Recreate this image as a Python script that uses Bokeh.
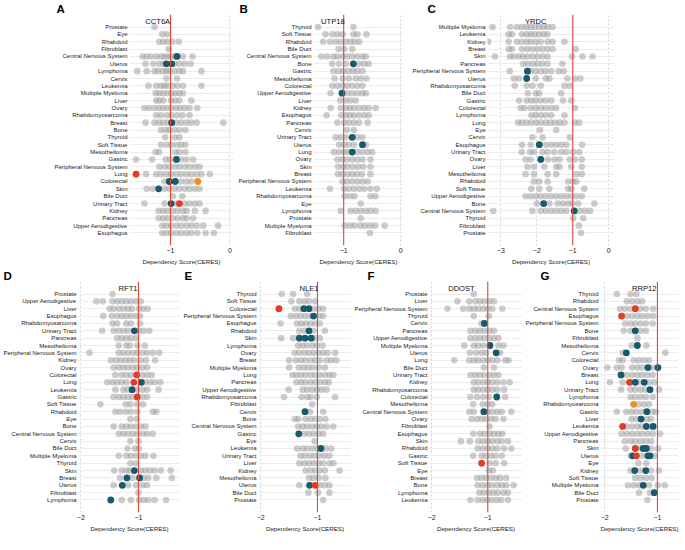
from bokeh.plotting import figure
from bokeh.models import FactorRange, Range1d, Span, Label, SingleIntervalTicker, ColumnDataSource
from bokeh.layouts import column, row
from bokeh.embed import file_html
from bokeh.resources import INLINE

FONT = "Liberation Sans"
GREY = "#A2A2A2"
GROUP_COLORS = {"teal": "#17596D", "red": "#E63B21", "orange": "#EF8E1E"}
XLABEL = "Dependency Score(CERES)"

# ---------------- Panel A : CCT6A ----------------
A_cats = ["Prostate", "Eye", "Rhabdoid", "Fibroblast", "Central Nervous System", "Uterus", "Lymphoma", "Cervix",
          "Leukemia", "Multiple Myeloma", "Liver", "Ovary", "Rhabdomyosarcoma", "Breast", "Bone", "Thyroid",
          "Soft Tissue", "Mesothelioma", "Gastric", "Peripheral Nervous System", "Lung", "Colorectal", "Skin",
          "Bile Duct", "Urinary Tract", "Kidney", "Pancreas", "Upper Aerodigestive", "Esophagus"]
A_grey = [
    [-1.27],
    [-1.14, -1.06],
    [-1.19, -1.12, -1.05, -0.97, -0.86],
    [-1.03],
    [-1.47, -1.40, -1.33, -1.24, -1.16, -1.10, -1.05, -0.99, -0.93, -0.79, -0.63],
    [-1.42, -1.29, -1.19, -1.12, -0.93, -0.85, -0.76, -0.66],
    [-1.56, -1.40, -1.27, -1.21, -1.13, -1.07, -1.02, -0.93, -0.85, -0.79, -0.48],
    [-1.07, -0.89],
    [-1.37, -1.24, -1.16, -1.10, -1.05, -0.96, -0.88, -0.79, -0.48],
    [-1.25, -1.19, -1.12, -1.05, -0.98, -0.92, -0.85, -0.79],
    [-1.24, -1.19, -1.12, -0.99, -0.92, -0.85, -0.65],
    [-1.44, -1.36, -1.27, -1.19, -1.12, -1.05, -0.98, -0.90, -0.84, -0.76, -0.68, -0.55],
    [-1.24, -1.16, -1.06, -0.98, -0.89, -0.80, -0.68],
    [-1.42, -1.27, -1.19, -1.12, -1.05, -0.90, -0.82, -0.73, -0.65, -0.56, -0.11],
    [-1.16, -1.08, -1.02, -0.93, -0.85, -0.75],
    [-1.09, -0.93, -0.85],
    [-1.16, -1.06, -0.98, -0.89, -0.82, -0.75],
    [-1.25, -1.19, -0.92, -0.85, -0.75],
    [-1.58, -1.31, -1.08, -1.01, -0.82, -0.73, -0.62],
    [-1.19, -1.10, -1.02, -0.93, -0.85, -0.76, -0.68, -0.59, -0.51],
    [-1.41, -1.24, -1.16, -1.07, -0.99, -0.90, -0.82, -0.73, -0.65, -0.56, -0.48, -0.34],
    [-1.10, -0.82, -0.73, -0.65],
    [-1.40, -1.30, -1.10, -1.02, -0.93, -0.85, -0.76, -0.68, -0.59, -0.51],
    [-0.96, -0.80],
    [-1.44, -1.10, -0.90, -0.76, -0.68, -0.59, -0.51],
    [-1.20, -1.12, -1.05, -0.96, -0.88, -0.79, -0.73, -0.59, -0.41],
    [-1.20, -1.12, -1.05, -0.96, -0.88, -0.79, -0.73, -0.62],
    [-1.14, -1.07, -0.99, -0.90, -0.82, -0.73, -0.65, -0.56, -0.45, -0.20],
    [-1.14, -1.07, -0.99, -0.90, -0.82, -0.73, -0.65, -0.55, -0.41, -0.27],
]
A_hl_cat = ["Central Nervous System", "Uterus", "Uterus", "Breast", "Gastric", "Lung", "Colorectal", "Colorectal",
            "Colorectal", "Skin", "Urinary Tract", "Urinary Tract"]
A_hl_x = [-0.89, -1.07, -0.98, -0.98, -0.90, -1.58, -1.02, -0.92, -0.54, -1.20, -0.99, -0.85]
A_hl_grp = ["teal", "teal", "teal", "teal", "teal", "red", "teal", "teal", "orange", "teal", "teal", "red"]

# ---------------- Panel B : UTP18 ----------------
B_cats = ["Thyroid", "Soft Tissue", "Rhabdoid", "Bile Duct", "Central Nervous System", "Bone", "Gastric",
          "Mesothelioma", "Colorectal", "Upper Aerodigestive", "Liver", "Kidney", "Esophagus", "Pancreas", "Cervix",
          "Urinary Tract", "Uterus", "Lung", "Ovary", "Skin", "Breast", "Peripheral Nervous System", "Leukemia",
          "Rhabdomyosarcoma", "Eye", "Lymphoma", "Prostate", "Multiple Myeloma", "Fibroblast"]
B_grey = [
    [-1.45, -0.83],
    [-1.32, -1.20, -1.11, -1.02, -0.83, -0.76, -0.60],
    [-1.36, -1.24, -1.14, -1.05, -0.96, -0.88, -0.81, -0.73],
    [-1.09, -0.99, -0.85],
    [-1.39, -1.29, -1.18, -1.11, -1.02, -0.94, -0.85, -0.76, -0.67, -0.61],
    [-1.20, -1.08, -0.96, -0.73, -0.64, -0.56],
    [-1.18, -1.09, -1.01, -0.92, -0.84, -0.76, -0.67],
    [-1.16, -1.02, -0.91, -0.79, -0.70, -0.60],
    [-1.20, -1.11, -1.02, -0.94, -0.85, -0.76, -0.67],
    [-1.23, -0.94, -0.85, -0.76, -0.67, -0.61],
    [-1.06, -0.96, -0.88, -0.79],
    [-1.23, -1.05, -0.96, -0.89, -0.82, -0.73, -0.64, -0.56, -0.44],
    [-1.30, -1.04, -0.96, -0.89, -0.82, -0.73, -0.64, -0.56],
    [-1.11, -0.99, -0.91, -0.82, -0.73, -0.58],
    [-0.94, -0.82],
    [-1.14, -1.05, -0.96, -0.76, -0.67],
    [-1.08, -0.99, -0.91, -0.82, -0.61],
    [-1.17, -1.08, -0.99, -0.92, -0.76, -0.67, -0.58, -0.50],
    [-1.11, -1.02, -0.94, -0.85, -0.76, -0.67, -0.53],
    [-1.10, -1.01, -0.93, -0.84, -0.75, -0.66, -0.53],
    [-1.10, -1.02, -0.93, -0.85, -0.77, -0.68, -0.53],
    [-1.02, -0.94, -0.85, -0.76, -0.67, -0.58],
    [-1.24, -0.99, -0.91, -0.82, -0.73, -0.64, -0.53, -0.42],
    [-0.98, -0.89, -0.81, -0.53, -0.44],
    [-0.70],
    [-1.05, -0.88, -0.79, -0.70, -0.61, -0.53, -0.44],
    [-0.70],
    [-0.98, -0.89, -0.81, -0.71, -0.63, -0.54, -0.45, -0.28],
    [-0.54],
]
B_hl_cat = ["Bone", "Upper Aerodigestive", "Urinary Tract", "Uterus", "Lung"]
B_hl_x = [-0.83, -1.03, -0.85, -0.67, -0.85]
B_hl_grp = ["teal", "teal", "teal", "teal", "teal"]

# ---------------- Panel C : YRDC ----------------
C_cats = ["Multiple Myeloma", "Leukemia", "Kidney", "Breast", "Skin", "Pancreas", "Peripheral Nervous System",
          "Uterus", "Rhabdomyosarcoma", "Bile Duct", "Gastric", "Colorectal", "Lymphoma", "Lung", "Eye", "Cervix",
          "Esophagus", "Urinary Tract", "Ovary", "Liver", "Mesothelioma", "Rhabdoid", "Soft Tissue",
          "Upper Aerodigestive", "Bone", "Central Nervous System", "Thyroid", "Fibroblast", "Prostate"]
C_grey = [
    [-3.23, -2.74, -2.55, -2.41, -2.28, -2.17, -2.06, -1.93, -1.81, -1.70, -1.56],
    [-2.78, -2.69, -2.41, -2.28, -2.17, -2.06, -1.93, -1.81, -1.70],
    [-3.35, -2.78, -2.55, -2.41, -2.28, -2.17, -2.03, -1.89, -1.70, -1.56, -1.23],
    [-2.78, -2.69, -2.41, -2.26, -2.12, -1.98, -1.84, -1.70, -1.56, -0.92],
    [-3.16, -2.75, -2.64, -2.50, -2.38, -2.26, -2.12, -1.98, -1.84, -1.70, -1.02, -0.73, -0.45],
    [-2.38, -2.25, -2.11, -1.98, -1.85, -1.70, -1.29],
    [-2.75, -2.17, -2.03, -1.89, -1.76, -1.60, -1.39, -1.25],
    [-2.64, -2.50, -2.03, -1.75, -1.65, -1.15, -0.94, -0.79],
    [-2.61, -2.28, -2.12, -1.89, -1.23, -1.08],
    [-2.25, -2.03, -1.93, -1.32],
    [-2.49, -2.28, -2.15, -2.03, -1.89, -1.75, -1.60, -1.27, -1.04],
    [-2.45, -2.34, -2.17, -2.03, -1.89, -1.75, -1.60, -1.46, -0.94],
    [-2.15, -2.03, -1.89, -1.75, -1.60, -1.23],
    [-2.52, -2.41, -2.28, -2.15, -2.02, -1.89, -1.75, -1.62, -1.49, -1.36, -1.23, -0.94, -0.82],
    [-1.91, -1.46],
    [-2.12, -1.84, -1.08],
    [-2.41, -2.17, -1.75, -1.60, -1.46, -1.32, -1.18, -0.74],
    [-2.42, -2.19, -2.08, -1.84, -1.70, -1.51, -1.32, -1.18, -0.99, -0.82],
    [-2.31, -2.17, -1.70, -1.51, -1.37, -1.08, -0.94, -0.75],
    [-2.26, -2.08, -1.79, -1.46, -1.37, -1.04, -0.75],
    [-2.31, -2.08, -1.70, -1.46, -0.90, -0.75],
    [-2.08, -1.93, -1.70, -1.13, -0.99, -0.90],
    [-2.15, -1.93, -1.65, -1.13, -1.04, -0.68],
    [-2.31, -2.17, -2.03, -1.89, -1.75, -1.60, -1.46, -1.32, -1.18, -1.04, -0.90, -0.75],
    [-2.00, -1.65, -1.42, -1.27, -1.13, -1.02, -0.85, -0.40],
    [-3.21, -2.12, -1.89, -1.75, -1.60, -1.46, -1.32, -1.18, -0.80, -0.66, -0.52],
    [-0.99, -0.71],
    [-0.83],
    [-0.77],
]
C_hl_cat = ["Peripheral Nervous System", "Uterus", "Esophagus", "Ovary", "Bone", "Central Nervous System"]
C_hl_x = [-2.26, -2.28, -1.93, -1.89, -1.81, -0.96]
C_hl_grp = ["teal", "teal", "teal", "teal", "teal", "teal"]

# ---------------- Panel D : RFT1 ----------------
D_cats = ["Prostate", "Upper Aerodigestive", "Liver", "Esophagus", "Rhabdomyosarcoma", "Urinary Tract", "Pancreas",
          "Mesothelioma", "Peripheral Nervous System", "Kidney", "Ovary", "Colorectal", "Lung", "Leukemia", "Gastric",
          "Soft Tissue", "Rhabdoid", "Eye", "Bone", "Central Nervous System", "Cervix", "Bile Duct",
          "Multiple Myeloma", "Thyroid", "Skin", "Breast", "Uterus", "Fibroblast", "Lymphoma"]
D_grey = [
    [-1.45],
    [-1.73, -1.62, -1.45, -1.37, -1.29, -1.21, -1.13, -1.04, -0.96],
    [-1.50, -1.43, -1.34, -1.26, -1.18, -1.11, -0.99, -0.92, -0.84],
    [-1.61, -1.46, -1.37, -1.29, -1.21, -1.13, -1.04, -0.97],
    [-1.45, -1.37, -1.21, -1.13, -0.97],
    [-1.63, -1.43, -1.34, -1.26, -1.18, -0.99, -0.91, -0.81],
    [-1.37, -1.29, -1.21, -1.13, -1.04],
    [-1.34, -1.21, -1.15, -1.02, -0.89],
    [-1.85, -1.34, -1.26, -1.18, -1.10, -1.02, -0.93, -0.85, -0.75, -0.64],
    [-1.48, -1.39, -1.31, -1.23, -1.15, -1.07, -0.96, -0.87, -0.71],
    [-1.43, -1.34, -1.26, -1.18, -1.10, -1.02, -0.93, -0.85],
    [-1.40, -1.29, -1.21, -1.13, -0.93, -0.85, -0.77],
    [-1.54, -1.45, -1.37, -1.29, -1.21, -0.88, -0.80, -0.72, -0.62],
    [-1.40, -1.26, -1.19, -1.02, -0.93, -0.85, -0.65],
    [-1.43, -1.34, -1.26, -1.18, -1.10, -0.93, -0.85],
    [-1.66, -1.22, -1.14, -1.02, -0.92],
    [-1.40, -1.32, -1.22, -1.13, -1.02, -0.75, -0.69],
    [-1.14, -1.03],
    [-1.43, -1.29, -1.21, -1.13, -1.04, -0.96, -0.88],
    [-1.34, -1.26, -1.18, -1.10, -1.02, -0.93, -0.85, -0.75],
    [-1.14, -1.00],
    [-1.19, -1.06, -0.99],
    [-1.34, -1.21, -1.13, -1.04, -0.96, -0.88, -0.74],
    [-1.14, -1.04],
    [-1.42, -1.29, -1.21, -1.15, -0.96, -0.88, -0.80, -0.72, -0.61, -0.44],
    [-1.32, -1.10, -0.91, -0.83, -0.69, -0.42],
    [-1.43, -1.18, -1.04, -0.93, -0.85],
    [-1.00],
    [-1.29, -1.13, -0.99, -0.91, -0.83, -0.72, -0.52],
]
D_hl_cat = ["Urinary Tract", "Colorectal", "Lung", "Lung", "Leukemia", "Gastric", "Skin", "Breast", "Breast",
            "Uterus", "Lymphoma"]
D_hl_x = [-1.07, -1.03, -1.08, -0.95, -1.11, -1.02, -1.07, -1.20, -0.98, -1.28, -1.48]
D_hl_grp = ["teal", "red", "red", "teal", "teal", "red", "teal", "teal", "teal", "teal", "teal"]

# ---------------- Panel E : NLE1 ----------------
E_cats = ["Thyroid", "Soft Tissue", "Colorectal", "Peripheral Nervous System", "Esophagus", "Rhabdoid", "Skin",
          "Lymphoma", "Ovary", "Breast", "Multiple Myeloma", "Lung", "Pancreas", "Upper Aerodigestive",
          "Rhabdomyosarcoma", "Fibroblast", "Cervix", "Bone", "Central Nervous System", "Gastric", "Eye",
          "Leukemia", "Urinary Tract", "Liver", "Kidney", "Mesothelioma", "Uterus", "Bile Duct", "Prostate"]
E_grey = [
    [-1.63, -1.43, -1.18],
    [-1.46, -1.32, -1.23, -1.15, -1.04],
    [-1.40, -1.32, -1.07, -0.98, -0.90],
    [-1.47, -1.38, -1.30, -1.22, -1.13, -0.97, -0.90],
    [-1.65, -1.36, -1.28, -1.20, -1.12, -1.04, -0.96],
    [-1.32, -1.23, -1.07, -0.87],
    [-1.64, -1.43, -1.04, -0.96],
    [-1.34, -1.26, -1.18, -1.09, -1.01, -0.91],
    [-1.40, -1.32, -1.23, -1.15, -1.07, -0.98, -0.90, -0.82, -0.69],
    [-1.50, -1.38, -1.29, -1.21, -1.12, -1.04, -0.96, -0.84, -0.76, -0.67],
    [-1.50, -1.33, -1.24, -1.16, -1.08, -0.98, -0.87],
    [-1.44, -1.37, -1.29, -1.21, -1.12, -1.04, -0.96, -0.87, -0.79, -0.72],
    [-1.37, -1.29, -1.21, -1.12, -1.04, -0.96, -0.87, -0.80],
    [-1.51, -1.26, -1.18, -1.09, -1.01, -0.93, -0.84],
    [-1.59, -1.28, -1.18, -1.12, -1.01, -0.69],
    [-1.09],
    [-1.13, -0.90],
    [-1.40, -1.34, -1.21, -1.12, -1.04, -0.96, -0.86],
    [-1.34, -1.26, -1.18, -1.09, -1.01, -0.93, -0.84, -0.72],
    [-1.23, -1.15, -1.07, -0.98, -0.90],
    [-1.05],
    [-1.36, -1.26, -1.18, -1.09, -1.01, -0.86, -0.76],
    [-1.30, -1.22, -1.13, -1.05, -0.97, -0.88, -0.79],
    [-1.32, -1.23, -1.15, -1.07, -0.98, -0.90, -0.79, -0.72],
    [-1.21, -1.12, -1.04, -0.96, -0.87, -0.61],
    [-1.15, -1.07, -0.98, -0.86],
    [-1.32, -0.96, -0.87, -0.79],
    [-1.16, -0.99, -0.79],
    [-0.90],
]
E_hl_cat = ["Colorectal", "Colorectal", "Colorectal", "Peripheral Nervous System", "Rhabdoid", "Skin", "Skin",
            "Skin", "Cervix", "Gastric", "Leukemia", "Uterus", "Uterus"]
E_hl_x = [-1.68, -1.24, -1.15, -1.07, -1.15, -1.32, -1.22, -1.11, -1.22, -1.33, -0.94, -1.14, -1.04]
E_hl_grp = ["red", "teal", "teal", "teal", "teal", "teal", "teal", "teal", "teal", "teal", "teal", "teal", "red"]

# ---------------- Panel F : DDOST ----------------
F_cats = ["Prostate", "Liver", "Peripheral Nervous System", "Thyroid", "Cervix", "Pancreas", "Upper Aerodigestive",
          "Multiple Myeloma", "Uterus", "Lung", "Bile Duct", "Urinary Tract", "Kidney", "Rhabdomyosarcoma",
          "Colorectal", "Mesothelioma", "Central Nervous System", "Ovary", "Fibroblast", "Esophagus", "Skin",
          "Rhabdoid", "Gastric", "Soft Tissue", "Eye", "Breast", "Bone", "Lymphoma", "Leukemia"]
F_grey = [
    [-1.25],
    [-1.54, -1.33, -1.22, -1.14, -1.06, -0.97, -0.89],
    [-1.72, -1.44, -1.33, -1.25, -1.17, -1.08, -1.00, -0.92, -0.74],
    [-1.25, -0.98],
    [-1.11],
    [-1.31, -1.22, -1.14, -1.06, -0.97, -0.89],
    [-1.31, -1.22, -1.14, -1.06, -0.97, -0.89, -0.81],
    [-1.42, -1.25, -1.17, -1.08, -0.81, -0.72],
    [-1.32, -1.21, -1.11, -1.03, -0.78],
    [-1.60, -1.33, -1.25, -1.17, -1.08, -1.00, -0.92, -0.83, -0.69, -0.63],
    [-1.07, -0.89],
    [-1.31, -1.22, -1.14, -1.06, -0.97, -0.89, -0.81],
    [-1.25, -1.17, -1.08, -1.00, -0.92, -0.83, -0.72, -0.61],
    [-1.25, -1.17, -1.08, -1.00, -0.92, -0.83, -0.71],
    [-1.31, -1.19, -1.08, -0.98, -0.69],
    [-1.26, -1.09, -1.00, -0.92],
    [-1.33, -1.25, -1.00, -0.92, -0.83, -0.75, -0.58],
    [-1.29, -1.19, -1.11, -1.03, -0.94, -0.86, -0.72],
    [-0.97],
    [-1.26, -1.14, -1.06, -0.97, -0.89, -0.81, -0.74],
    [-1.48, -1.32, -1.17, -1.08, -1.00, -0.92, -0.83, -0.75, -0.64],
    [-1.18, -1.09, -1.00, -0.92, -0.83, -0.71, -0.58],
    [-1.26, -1.11, -1.03, -0.94, -0.86, -0.75],
    [-0.97, -0.86, -0.71],
    [-0.98, -0.91],
    [-1.19, -1.11, -1.03, -0.94, -0.86, -0.78, -0.67],
    [-1.18, -1.09, -1.00, -0.92, -0.83, -0.75, -0.67, -0.54],
    [-1.15, -1.07, -0.98, -0.90, -0.82, -0.72, -0.64],
    [-1.31, -1.18, -1.09, -1.01, -0.93, -0.84, -0.76, -0.64],
]
F_hl_cat = ["Cervix", "Multiple Myeloma", "Uterus", "Colorectal", "Central Nervous System", "Soft Tissue"]
F_hl_x = [-1.06, -0.96, -0.85, -0.84, -1.07, -1.11]
F_hl_grp = ["teal", "teal", "teal", "teal", "teal", "red"]

# ---------------- Panel G : RRP12 ----------------
G_cats = ["Thyroid", "Rhabdoid", "Central Nervous System", "Esophagus", "Peripheral Nervous System", "Bone",
          "Fibroblast", "Mesothelioma", "Cervix", "Colorectal", "Ovary", "Breast", "Lung", "Urinary Tract",
          "Lymphoma", "Rhabdomyosarcoma", "Gastric", "Liver", "Leukemia", "Upper Aerodigestive", "Pancreas", "Skin",
          "Uterus", "Eye", "Kidney", "Soft Tissue", "Multiple Myeloma", "Bile Duct", "Prostate"]
G_grey = [
    [-1.77, -1.51, -1.40],
    [-1.58, -1.48, -1.38, -1.29],
    [-1.71, -1.61, -1.51, -1.32, -1.22, -1.08],
    [-1.58, -1.48, -1.38, -1.29, -1.19, -1.08],
    [-1.61, -1.51, -1.42, -1.32, -1.22, -1.09],
    [-1.64, -1.51, -1.32, -1.22],
    [-1.38],
    [-1.49, -1.21],
    [-1.66, -0.85],
    [-1.73, -1.66, -1.45, -1.35, -1.25, -1.16],
    [-1.95, -1.77, -1.68, -1.48, -1.38, -1.29, -1.09],
    [-1.58, -1.48, -1.38, -1.29, -1.19, -1.09],
    [-1.90, -1.66, -1.49, -1.35, -1.16, -1.06],
    [-1.69, -1.51, -1.42, -1.32, -1.23, -0.97],
    [-1.51, -1.42, -1.32, -1.22, -1.09],
    [-1.35, -1.25, -1.16],
    [-1.77, -1.59, -1.49, -1.40, -1.30, -1.10, -1.03],
    [-1.49, -1.40, -1.20, -1.12],
    [-1.58, -1.48, -1.38, -1.30, -1.12],
    [-1.68, -1.58, -1.48, -1.38, -1.29, -1.19, -1.09, -0.95],
    [-1.62, -1.51, -1.42, -1.32, -1.22, -1.12],
    [-1.60, -1.32, -1.12, -0.99],
    [-1.51, -1.29, -1.06],
    [-1.36, -1.21],
    [-1.51, -1.32, -1.12, -0.97],
    [-1.42, -1.32, -1.22, -1.11],
    [-1.56, -1.45, -1.35, -1.16, -0.99, -0.86],
    [-1.35, -1.14],
    [-1.19],
]
G_hl_cat = ["Central Nervous System", "Esophagus", "Bone", "Mesothelioma", "Cervix", "Ovary", "Ovary", "Breast",
            "Lung", "Lung", "Lung", "Urinary Tract", "Rhabdomyosarcoma", "Gastric", "Liver", "Leukemia", "Leukemia",
            "Leukemia", "Skin", "Skin", "Skin", "Uterus", "Uterus", "Uterus", "Uterus", "Kidney", "Kidney",
            "Multiple Myeloma", "Bile Duct"]
G_hl_x = [-1.42, -1.68, -1.42, -1.38, -1.59, -1.18, -0.99, -1.69, -1.53, -1.42, -1.25, -1.14, -1.45, -1.20, -1.31,
          -1.66, -1.21, -1.08, -1.42, -1.27, -1.21, -1.47, -1.40, -1.18, -1.14, -1.43, -1.22, -1.27, -1.06]
G_hl_grp = ["red", "red", "teal", "teal", "teal", "teal", "teal", "teal", "red", "teal", "teal", "teal", "orange",
            "teal", "teal", "red", "teal", "teal", "red", "teal", "teal", "teal", "red", "teal", "teal", "teal",
            "teal", "teal", "teal"]

FRAME_H = 231


def panel(cats, grey, hl_cat, hl_x, hl_grp, x_start, x_end, frame_w, left, right,
          letter, letter_off, gene, gene_x):
    n = len(cats)
    p = figure(frame_width=frame_w, frame_height=FRAME_H, output_backend="svg", toolbar_location=None,
               x_range=Range1d(x_start, x_end),
               y_range=FactorRange(factors=cats[::-1], range_padding=1.2, range_padding_units="absolute"),
               min_border_left=left, min_border_right=right, min_border_top=0, min_border_bottom=21)
    p.outline_line_color = None
    p.background_fill_color = "white"

    # panel letter as the figure title, shifted left of the panel
    p.title.text = letter
    p.title.align = "left"
    p.title.offset = letter_off
    p.title.standoff = 0
    p.title.text_font = FONT
    p.title.text_font_size = "11.5px"
    p.title.text_font_style = "bold"
    p.title.text_color = "black"

    p.xaxis.ticker = SingleIntervalTicker(interval=1, num_minor_ticks=0)
    p.xaxis.axis_label = XLABEL
    p.xaxis.axis_label_text_font = FONT
    p.xaxis.axis_label_text_font_style = "normal"
    p.xaxis.axis_label_text_font_size = "6.2px"
    p.xaxis.axis_label_standoff = 2
    p.xaxis.major_label_text_font = FONT
    p.xaxis.major_label_text_font_size = "7px"
    p.xaxis.major_label_standoff = 2
    p.xaxis.axis_line_color = None
    p.xaxis.major_tick_line_color = None
    p.xaxis.minor_tick_line_color = None
    p.xaxis.major_tick_out = 0
    p.xaxis.major_tick_in = 0
    p.xaxis.minor_tick_out = 0
    p.xaxis.major_label_text_color = "#222222"
    p.xaxis.axis_label_text_color = "#222222"

    p.yaxis.axis_line_color = None
    p.yaxis.major_tick_line_color = None
    p.yaxis.minor_tick_line_color = None
    p.yaxis.major_tick_out = 0
    p.yaxis.major_tick_in = 0
    p.yaxis.minor_tick_out = 0
    p.yaxis.major_label_text_font = FONT
    p.yaxis.major_label_text_font_size = "6px"
    p.yaxis.major_label_standoff = 2
    p.yaxis.major_label_text_color = "#1a1a1a"

    p.ygrid.grid_line_color = "#ECECEC"
    p.ygrid.grid_line_width = 1
    p.xgrid.grid_line_color = "#D2D2D2"
    p.xgrid.grid_line_dash = "2 2"

    p.add_layout(Span(location=-1, dimension="height", line_color="#DF4A3B", line_width=1.1))

    xs, ys = [], []
    for c, vals in zip(cats, grey):
        for v in vals:
            xs.append(v)
            ys.append(c)
    p.scatter(x="x", y="y", source=ColumnDataSource(dict(x=xs, y=ys)), marker="circle", size=6.6,
              fill_color=GREY, fill_alpha=0.55, line_color=None)

    hl = ColumnDataSource(dict(x=hl_x, y=hl_cat, c=[GROUP_COLORS[g] for g in hl_grp]))
    p.scatter(x="x", y="y", source=hl, marker="circle", size=6.8, fill_color="c", fill_alpha=1.0,
              line_color=None)

    # gene name at the top of the panel
    p.add_layout(Label(x=gene_x, y=n + 0.3, text=gene, text_align="center", text_baseline="middle",
                       text_font=FONT, text_font_size="7.6px", text_color="#111111"))
    return p


pA = panel(A_cats, A_grey, A_hl_cat, A_hl_x, A_hl_grp, -1.69, 0.06, 104, 129, 0, "A", -73, "CCT6A", -1.215)
pB = panel(B_cats, B_grey, B_hl_cat, B_hl_x, B_hl_grp, -1.53, 0.05, 90, 80, 0, "B", -74, "UTP18", -1.19)
pC = panel(C_cats, C_grey, C_hl_cat, C_hl_x, C_hl_grp, -3.37, 0.16, 127, 84, 4, "C", -60, "YRDC", -2.03)

pD = panel(D_cats, D_grey, D_hl_cat, D_hl_x, D_hl_grp, -2.04, -0.27, 102, 75, 0, "D", -75, "RFT1", -1.18)
pE = panel(E_cats, E_grey, E_hl_cat, E_hl_x, E_hl_grp, -2.04, -0.40, 93, 75, 0, "E", -74, "NLE1", -1.15)
pF = panel(F_cats, F_grey, F_hl_cat, F_hl_x, F_hl_grp, -2.04, -0.38, 93, 75, 0, "F", -62, "DDOST", -1.47)
pG = panel(G_cats, G_grey, G_hl_cat, G_hl_x, G_hl_grp, -2.08, -0.60, 78, 75, 3, "G", -60, "RRP12", -1.25)

layout = column(row(pA, pB, pC), row(pD, pE, pF, pG))

open("out.html", "w").write(file_html(layout, INLINE))
